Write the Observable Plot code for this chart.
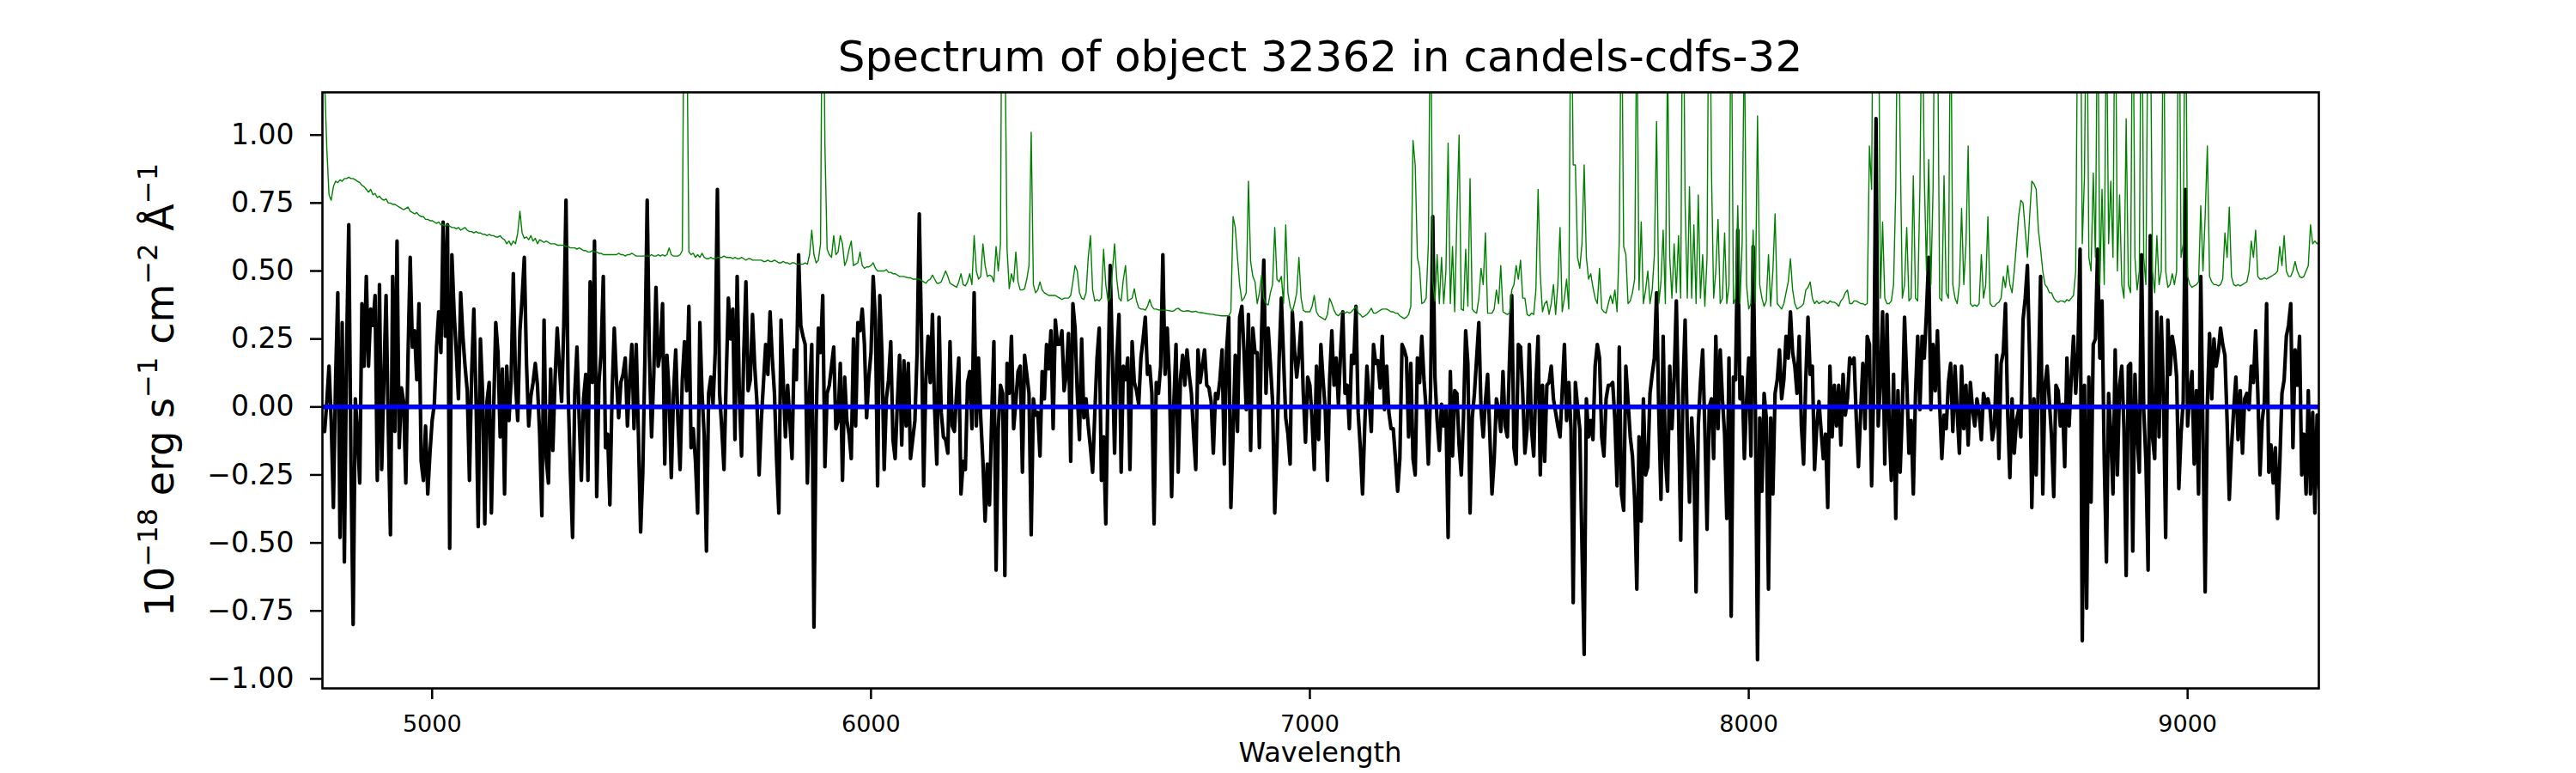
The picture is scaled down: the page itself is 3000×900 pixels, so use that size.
<!DOCTYPE html>
<html>
<head>
<meta charset="utf-8">
<script src="https://cdn.jsdelivr.net/npm/d3@7"></script>
<script src="https://cdn.jsdelivr.net/npm/@observablehq/plot@0.6"></script>
<style>
  html, body { margin: 0; padding: 0; background: #ffffff; }
  #chart svg { display: block; }
</style>
</head>
<body>
<div id="chart"></div>
<script>
// ---------- texts ----------
const titleText = "Spectrum of object 32362 in candels-cdfs-32";
const xLabelText = "Wavelength";
// y label: [text, isSuperscript]
const yLabelParts = [["10", false], ["\u221218", true], [" erg s", false], ["\u22121", true], [" cm", false], ["\u22122", true], [" \u00C5", false], ["\u22121", true]];

// ---------- axes ----------
const xTicks = [5000, 6000, 7000, 8000, 9000];
const yTicks = [-1, -0.75, -0.5, -0.25, 0, 0.25, 0.5, 0.75, 1];
const xDomain = [4750, 9299];
const yDomain = [-1.035, 1.157];

// ---------- spectrum sampling (Angstrom) ----------
const wavelengthStart = 4750;
const wavelengthStep = 5;

// observed flux (black), one row per 100 A starting at 4750, 4850, ...
const flux = [
-0.08,-0.09,0.02,0.15,-0.05,-0.37,0.10,0.42,-0.48,0.31,-0.57,0.20,0.67,-0.20,-0.80,0.03,-0.10,-0.28,0.38,0.15,
0.48,0.15,0.36,0.30,0.41,-0.27,0.45,-0.23,0.10,0.41,-0.07,-0.47,0.48,-0.09,0.61,-0.15,0.07,0.02,-0.28,0.18,
0.55,0.22,0.28,0.10,0.38,-0.20,-0.27,-0.07,-0.32,-0.17,-0.05,0.01,0.22,0.35,0.20,0.68,0.26,0.67,-0.52,0.56,
0.35,0.20,0.03,0.42,0.26,0.15,0.06,-0.27,0.12,0.36,0.03,-0.44,0.25,0.05,-0.43,0.02,0.09,-0.39,-0.02,0.31,
0.20,-0.11,0.14,-0.32,0.15,-0.05,0.10,0.49,0.09,-0.05,0.28,0.40,0.55,0.16,-0.07,0.04,0.09,0.16,0.08,-0.10,
-0.40,0.32,-0.19,-0.28,0.14,-0.16,0.10,0.29,0.15,0.02,0.30,0.76,0.05,-0.24,-0.48,0.05,0.22,-0.04,-0.27,0.03,
0.12,-0.27,0.46,0.09,0.61,-0.33,0.09,0.20,0.48,-0.15,-0.10,-0.36,0.05,0.29,0.10,-0.04,0.09,0.12,0.18,-0.07,
0.10,0.23,-0.08,0.23,-0.10,-0.46,-0.24,0.20,0.76,0.19,-0.11,0.12,0.44,0.15,0.20,0.38,-0.21,0.19,0.05,-0.26,
0.05,0.21,-0.05,-0.23,0.10,0.24,0.06,0.37,-0.15,-0.08,-0.20,-0.39,0.31,0.05,-0.11,-0.53,0.05,0.11,0.01,0.20,
0.80,0.05,-0.08,-0.23,0.10,0.40,0.25,0.36,-0.12,0.48,0.05,-0.18,0.19,0.46,0.06,0.10,0.34,0.15,0.02,-0.25,
-0.05,0.09,0.23,0.12,0.35,0.18,0.05,-0.20,-0.39,0.32,0.10,-0.11,0.08,-0.05,-0.19,0.21,0.10,0.56,0.30,0.26,
0.23,-0.28,0.05,0.23,-0.81,-0.05,0.29,0.20,0.41,-0.22,0.05,0.08,0.15,0.22,-0.08,-0.05,0.16,-0.27,0.11,-0.05,
-0.10,-0.19,0.25,-0.07,0.31,0.28,0.36,0.23,-0.04,0.11,0.20,0.48,0.32,-0.29,0.41,0.19,-0.23,0.03,0.10,0.24,
-0.12,-0.19,0.01,0.19,-0.14,0.17,-0.07,0.16,-0.19,-0.12,-0.05,0.20,0.71,0.26,-0.29,0.10,0.26,0.09,0.34,-0.01,
-0.21,0.33,-0.02,-0.11,-0.12,-0.17,0.24,-0.07,-0.09,0.05,0.18,-0.32,-0.20,-0.23,0.09,0.13,-0.08,0.42,-0.07,0.18,
-0.04,-0.20,-0.42,-0.21,-0.36,-0.04,0.24,-0.60,-0.08,0.08,0.05,-0.62,0.16,0.05,0.26,-0.08,0.02,0.13,0.15,-0.24,
0.19,0.12,0.05,-0.47,0.03,-0.03,-0.02,-0.18,0.13,0.03,0.23,0.14,0.28,-0.08,0.32,0.23,0.23,0.28,0.06,0.12,
0.27,-0.20,0.38,0.29,0.05,-0.12,0.25,-0.04,0.03,-0.07,-0.15,-0.24,-0.02,0.18,0.29,-0.27,-0.11,-0.43,0.09,0.52,
0.18,-0.17,0.18,0.34,-0.24,0.15,0.10,0.18,-0.23,0.24,0.09,0.06,0.01,0.18,0.25,0.33,0.12,0.15,0.05,-0.43,
0.09,0.05,0.15,0.56,0.12,0.29,0.10,-0.33,0.01,0.23,-0.24,0.10,0.19,0.08,0.21,0.12,0.05,-0.10,-0.23,0.21,
0.09,0.15,0.21,0.08,0.07,0.02,-0.17,0.05,0.03,0.10,0.21,-0.21,0.20,0.33,-0.37,-0.10,0.19,-0.09,0.33,0.37,
0.20,-0.01,0.34,-0.16,0.29,0.20,0.20,-0.15,0.28,0.54,0.05,0.29,0.16,0.02,-0.39,-0.15,0.18,0.40,0.18,-0.04,
-0.10,-0.21,0.35,0.21,0.11,0.19,0.31,0.05,-0.13,0.11,0.08,-0.05,-0.23,0.15,-0.12,0.23,0.10,-0.01,-0.27,0.10,
0.28,0.08,0.18,0.01,0.20,0.35,0.05,0.08,-0.08,0.19,0.16,0.37,-0.02,-0.15,-0.32,-0.07,0.15,0.03,-0.09,0.23,
0.16,0.17,0.07,0.26,-0.01,0.15,-0.02,-0.08,-0.08,-0.19,-0.31,-0.19,0.23,0.21,0.18,-0.11,0.16,-0.19,-0.25,0.18,
0.09,0.26,0.10,-0.01,-0.21,0.06,0.70,0.11,-0.05,-0.16,0.01,-0.07,-0.01,-0.48,0.13,-0.18,0.06,0.05,-0.14,-0.25,
-0.04,0.28,0.16,-0.39,-0.04,0.05,0.18,0.31,-0.01,-0.11,0.02,0.12,-0.10,-0.32,-0.19,0.03,-0.01,-0.09,0.13,-0.07,
-0.11,0.18,0.41,-0.15,-0.21,0.23,0.22,0.05,-0.17,-0.08,0.23,-0.08,-0.18,0.09,0.26,-0.25,0.08,-0.20,0.08,0.09,
0.15,0.03,-0.02,-0.07,-0.11,0.06,0.23,-0.05,0.09,-0.08,-0.72,0.09,0.00,-0.08,-0.51,-0.91,0.03,-0.11,-0.05,-0.12,
0.15,0.23,0.18,-0.11,-0.18,0.03,0.08,0.08,0.09,-0.05,-0.29,0.22,-0.32,-0.38,0.15,0.02,-0.11,-0.18,-0.34,-0.67,
-0.11,-0.42,0.03,-0.25,-0.22,0.05,0.12,0.18,0.42,-0.02,-0.34,0.26,-0.19,-0.31,0.15,-0.08,0.10,0.39,-0.01,-0.49,
0.06,0.32,-0.09,-0.35,-0.04,-0.20,-0.68,-0.07,0.09,0.21,-0.08,-0.45,0.00,0.03,-0.19,0.26,-0.08,0.21,0.03,-0.10,
-0.41,0.18,-0.77,0.11,0.10,0.65,0.03,0.11,-0.19,0.02,0.18,-0.18,0.59,0.01,-0.93,-0.04,-0.31,0.05,-0.04,-0.67,
-0.04,-0.32,0.05,0.10,0.21,0.03,0.10,0.26,0.18,0.35,0.20,0.15,0.05,0.26,-0.07,-0.21,0.10,0.33,0.12,0.15,
-0.23,-0.07,0.02,-0.09,-0.19,-0.10,-0.37,0.15,-0.11,0.08,-0.07,0.08,-0.14,0.12,-0.03,0.03,0.18,0.16,0.18,-0.04,
-0.22,-0.02,0.16,-0.08,0.26,0.23,-0.29,0.09,1.06,-0.07,0.10,0.35,-0.21,0.34,-0.07,-0.27,0.12,-0.41,0.06,-0.24,
-0.01,0.33,0.10,-0.17,-0.05,-0.32,0.05,0.26,-0.01,0.26,0.18,0.35,0.55,-0.01,0.23,0.06,0.28,0.01,-0.19,-0.03,
-0.08,0.09,0.16,-0.09,0.15,-0.02,-0.17,0.15,-0.08,0.08,-0.14,0.09,-0.01,-0.07,0.03,-0.02,-0.12,0.05,0.01,0.03,
-0.01,-0.12,-0.07,0.19,-0.19,0.16,0.20,0.38,-0.02,-0.26,0.03,-0.17,-0.05,-0.01,-0.11,0.32,0.40,0.52,0.18,-0.37,
0.03,-0.25,0.10,0.48,-0.32,0.08,0.15,0.02,-0.11,-0.33,0.08,0.06,-0.07,0.01,-0.22,0.18,-0.07,0.11,0.26,0.05,
0.20,0.58,-0.86,0.08,-0.74,0.11,-0.35,0.23,0.25,0.58,0.18,0.39,-0.19,-0.57,0.05,-0.10,-0.32,0.21,-0.25,0.08,
0.15,-0.08,-0.62,0.15,0.16,-0.53,0.12,-0.10,-0.24,0.56,-0.01,-0.20,-0.60,0.63,-0.11,-0.19,0.35,-0.11,0.33,0.05,
-0.48,0.32,0.12,0.26,0.21,0.11,-0.30,-0.10,0.02,0.80,-0.07,0.05,0.13,-0.21,0.06,-0.32,0.48,-0.10,-0.68,0.01,
0.27,0.03,0.25,0.15,0.20,0.29,0.23,0.19,-0.05,-0.34,-0.15,-0.01,0.11,-0.12,0.06,-0.17,0.03,0.05,-0.01,0.15,
0.09,0.28,0.05,-0.25,-0.05,0.02,0.38,-0.24,-0.14,-0.28,-0.15,-0.41,-0.21,0.05,0.10,0.26,0.30,0.38,-0.15,0.21,
0.08,0.26,-0.25,-0.10,-0.32,0.06,-0.32,-0.02,-0.39,-0.03,-0.30
];

// noise spectrum (green), same sampling
const noise = [
1.60,1.20,0.95,0.78,0.76,0.81,0.83,0.825,0.835,0.83,0.84,0.84,0.845,0.84,0.84,0.835,0.83,0.825,0.815,0.81,
0.80,0.79,0.80,0.78,0.785,0.77,0.775,0.765,0.76,0.765,0.75,0.75,0.745,0.745,0.74,0.735,0.73,0.725,0.73,0.735,
0.72,0.715,0.71,0.715,0.705,0.70,0.70,0.69,0.69,0.685,0.685,0.68,0.675,0.68,0.67,0.67,0.665,0.67,0.665,0.66,
0.66,0.655,0.66,0.65,0.655,0.66,0.65,0.645,0.645,0.64,0.645,0.64,0.64,0.635,0.635,0.63,0.635,0.63,0.63,0.625,
0.625,0.63,0.62,0.615,0.60,0.61,0.595,0.61,0.60,0.64,0.72,0.64,0.62,0.625,0.615,0.63,0.61,0.62,0.60,0.615,
0.61,0.605,0.61,0.605,0.60,0.60,0.60,0.595,0.595,0.595,0.595,0.59,0.59,0.585,0.585,0.585,0.58,0.585,0.58,0.575,
0.575,0.57,0.57,0.575,0.57,0.57,0.565,0.565,0.56,0.56,0.56,0.56,0.56,0.56,0.56,0.565,0.56,0.56,0.555,0.56,
0.56,0.565,0.56,0.555,0.555,0.555,0.555,0.555,0.555,0.555,0.56,0.555,0.555,0.56,0.555,0.56,0.555,0.56,0.585,0.56,
0.555,0.555,0.555,0.56,0.575,1.80,1.50,0.57,0.56,0.565,0.55,0.56,0.55,0.565,0.55,0.545,0.545,0.55,0.545,0.545,
0.55,0.55,0.55,0.555,0.55,0.55,0.55,0.545,0.55,0.545,0.545,0.55,0.545,0.54,0.545,0.545,0.54,0.54,0.54,0.54,
0.54,0.535,0.535,0.54,0.535,0.535,0.54,0.535,0.53,0.53,0.535,0.53,0.53,0.525,0.53,0.53,0.525,0.525,0.525,0.525,
0.53,0.525,0.56,0.65,0.56,0.53,0.54,0.60,1.90,0.96,0.58,0.56,0.55,0.63,0.56,0.57,0.63,0.60,0.52,0.54,
0.58,0.61,0.52,0.525,0.53,0.57,0.52,0.51,0.515,0.515,0.52,0.53,0.51,0.50,0.50,0.50,0.50,0.505,0.495,0.495,
0.49,0.49,0.485,0.48,0.48,0.48,0.477,0.475,0.475,0.47,0.47,0.47,0.47,0.465,0.46,0.455,0.465,0.47,0.485,0.47,
0.455,0.455,0.46,0.48,0.50,0.48,0.455,0.45,0.445,0.44,0.46,0.49,0.45,0.445,0.46,0.49,0.45,0.63,0.50,0.47,
0.48,0.60,0.52,0.48,0.485,0.48,0.46,0.59,0.50,0.60,2.20,1.40,0.58,0.435,0.49,0.46,0.57,0.46,0.43,0.43,
0.435,0.47,0.52,1.01,0.45,0.42,0.43,0.46,0.43,0.42,0.415,0.41,0.41,0.41,0.41,0.405,0.40,0.395,0.40,0.40,
0.40,0.41,0.46,0.52,0.50,0.42,0.40,0.395,0.42,0.55,0.63,0.43,0.39,0.395,0.39,0.40,0.58,0.45,0.39,0.40,
0.50,0.60,0.47,0.40,0.39,0.47,0.52,0.39,0.395,0.40,0.435,0.39,0.365,0.36,0.36,0.356,0.37,0.395,0.37,0.36,
0.36,0.357,0.356,0.356,0.356,0.355,0.354,0.352,0.353,0.36,0.363,0.356,0.352,0.352,0.354,0.353,0.35,0.35,0.352,0.348,
0.347,0.346,0.345,0.343,0.342,0.341,0.34,0.338,0.337,0.336,0.335,0.335,0.335,0.335,0.35,0.70,0.66,0.55,0.45,0.39,
0.40,0.42,0.83,0.535,0.48,0.46,0.38,0.42,0.485,0.40,0.38,0.375,0.42,0.45,0.66,0.47,0.46,0.48,0.38,0.67,
0.42,0.37,0.35,0.38,0.42,0.55,0.40,0.355,0.35,0.35,0.35,0.37,0.41,0.35,0.335,0.33,0.325,0.32,0.34,0.40,
0.38,0.356,0.34,0.335,0.345,0.35,0.345,0.35,0.345,0.35,0.36,0.37,0.345,0.34,0.33,0.335,0.34,0.35,0.363,0.345,
0.345,0.35,0.355,0.36,0.36,0.36,0.355,0.35,0.35,0.345,0.345,0.335,0.33,0.325,0.33,0.34,0.37,0.98,0.89,0.55,
0.51,0.38,0.385,0.40,0.60,1.60,0.46,0.39,0.56,0.38,0.55,0.38,0.50,0.97,0.38,0.59,0.35,0.70,1.00,0.36,
0.355,0.58,0.37,0.84,0.36,0.35,0.345,0.40,0.51,0.45,0.64,0.345,0.345,0.345,0.36,0.43,0.38,0.52,0.35,0.345,
0.34,0.345,0.43,0.45,0.52,0.47,0.54,0.40,0.40,0.34,0.335,0.345,0.34,0.43,0.80,0.485,0.35,0.38,0.39,0.34,
0.38,0.45,0.34,0.45,0.66,0.35,0.40,0.47,0.36,1.70,0.89,0.89,0.55,0.51,0.60,0.89,0.55,0.47,0.49,0.44,
0.40,0.38,0.51,0.36,0.35,0.345,0.38,0.41,0.38,0.43,0.35,0.61,1.60,0.59,0.56,0.38,0.39,0.42,0.47,1.50,
0.43,0.68,0.38,0.43,0.50,0.38,0.43,0.56,1.05,0.38,0.46,0.65,0.38,1.30,0.55,0.40,0.60,0.42,0.63,0.40,
1.80,0.75,0.40,0.81,0.40,0.67,0.38,0.78,0.40,0.56,0.37,0.55,1.90,0.88,0.40,0.50,0.69,0.38,0.40,0.64,
0.38,0.45,1.60,0.38,0.40,0.74,0.38,0.60,1.40,0.45,0.36,0.38,0.65,0.38,1.07,0.45,0.40,0.37,0.39,0.56,
0.37,0.50,0.71,0.38,0.37,0.36,0.38,0.42,0.46,0.545,0.43,0.38,0.36,0.365,0.37,0.38,0.43,0.44,0.46,0.40,
0.38,0.39,0.38,0.385,0.39,0.385,0.38,0.39,0.385,0.385,0.38,0.37,0.39,0.40,0.42,0.43,0.38,0.38,0.39,0.39,
0.385,0.38,0.38,0.375,0.38,0.96,0.80,2.00,1.60,1.80,0.40,0.68,0.40,0.38,0.38,0.39,0.45,0.80,1.70,0.98,
0.40,0.45,0.66,0.39,0.40,0.85,0.40,0.39,0.80,1.60,0.85,0.50,0.91,0.45,0.80,1.80,1.50,0.40,0.39,0.85,
0.42,0.40,1.60,0.45,0.40,0.38,0.45,0.73,0.45,0.60,0.96,0.38,0.37,0.375,0.37,0.38,0.56,0.40,0.45,0.70,
0.38,0.37,0.37,0.38,0.385,0.40,0.48,0.44,0.52,0.45,0.42,0.50,0.60,0.70,0.76,0.75,0.65,0.55,0.70,0.83,
0.82,0.80,0.65,0.58,0.50,0.45,0.44,0.42,0.42,0.40,0.39,0.385,0.39,0.39,0.385,0.395,0.39,0.40,0.41,0.50,
1.60,1.80,0.60,0.85,1.70,0.55,0.50,0.86,0.55,1.60,0.45,0.80,0.45,1.50,0.60,0.83,0.55,1.70,0.50,0.78,
0.45,0.40,1.06,0.45,0.42,1.70,0.55,0.43,0.50,1.80,0.55,0.45,1.60,1.50,0.50,0.42,0.63,0.45,0.50,1.60,
0.50,0.44,0.45,0.49,0.45,0.50,1.80,0.55,0.60,1.70,0.48,0.45,0.44,0.445,0.45,0.46,0.74,0.50,0.70,0.96,
0.48,0.46,0.45,0.45,0.445,0.45,0.47,0.64,0.55,0.735,0.48,0.45,0.445,0.45,0.445,0.45,0.455,0.46,0.50,0.61,
0.55,0.65,0.48,0.47,0.47,0.475,0.47,0.475,0.48,0.485,0.49,0.50,0.59,0.52,0.63,0.50,0.48,0.48,0.50,0.535,
0.50,0.48,0.475,0.48,0.50,0.52,0.67,0.60,0.61,0.60,0.61
];

// model continuum (blue)
const modelLevel = [0];

// ---------- build table ----------
const spectrum = flux.map((f, i) => ({
  wavelength: wavelengthStart + wavelengthStep * i,
  flux: f,
  noise: noise[i]
}));

const FONT = "DejaVu Sans";

const chart = Plot.plot({
  width: 3000,
  height: 900,
  marginLeft: 375,
  marginRight: 300,
  marginTop: 107,
  marginBottom: 99,
  style: { fontFamily: FONT, background: "#ffffff", color: "#000000" },
  x: { domain: xDomain, label: null },
  y: { domain: yDomain, label: null },
  marks: [
    Plot.line(spectrum, { x: "wavelength", y: "flux", stroke: "#000000", strokeWidth: 4.2, clip: true }),
    Plot.line(spectrum, { x: "wavelength", y: "noise", stroke: "#008000", strokeWidth: 1.4, clip: true }),
    Plot.ruleY(modelLevel, { stroke: "#0000ff", strokeWidth: 5.5 }),
    Plot.frame({ stroke: "#000000", strokeWidth: 2.6 }),
    Plot.axisX({ ticks: xTicks, tickFormat: d => String(d), tickSize: 13, tickPadding: 18, fontSize: 27, strokeWidth: 2.5, label: null }),
    Plot.axisY({ ticks: yTicks, tickFormat: d3.format(".2f"), tickSize: 14, tickPadding: 19, fontSize: 33, strokeWidth: 2.5, label: null })
  ]
});

document.getElementById("chart").appendChild(chart);

// ---------- title and axis labels ----------
const svg = d3.select(chart);
const cx = 375 + (3000 - 375 - 300) / 2;

svg.append("text")
  .attr("x", cx).attr("y", 83)
  .attr("text-anchor", "middle")
  .attr("font-family", FONT).attr("font-size", 50).attr("fill", "#000")
  .text(titleText);

svg.append("text")
  .attr("x", cx).attr("y", 887)
  .attr("text-anchor", "middle")
  .attr("font-family", FONT).attr("font-size", 32).attr("fill", "#000")
  .text(xLabelText);

const yFont = 46, supShift = 19;
const yl = svg.append("text")
  .attr("transform", `translate(202,${107 + (900 - 107 - 99) / 2}) rotate(-90)`)
  .attr("text-anchor", "middle")
  .attr("font-family", FONT).attr("font-size", yFont).attr("fill", "#000");
let raised = false;
for (const [t, sup] of yLabelParts) {
  const ts = yl.append("tspan").text(t);
  if (sup) {
    ts.attr("font-size", yFont * 0.7).attr("dy", raised ? 0 : -supShift);
    raised = true;
  } else {
    ts.attr("dy", raised ? supShift : 0);
    raised = false;
  }
}
</script>
</body>
</html>
